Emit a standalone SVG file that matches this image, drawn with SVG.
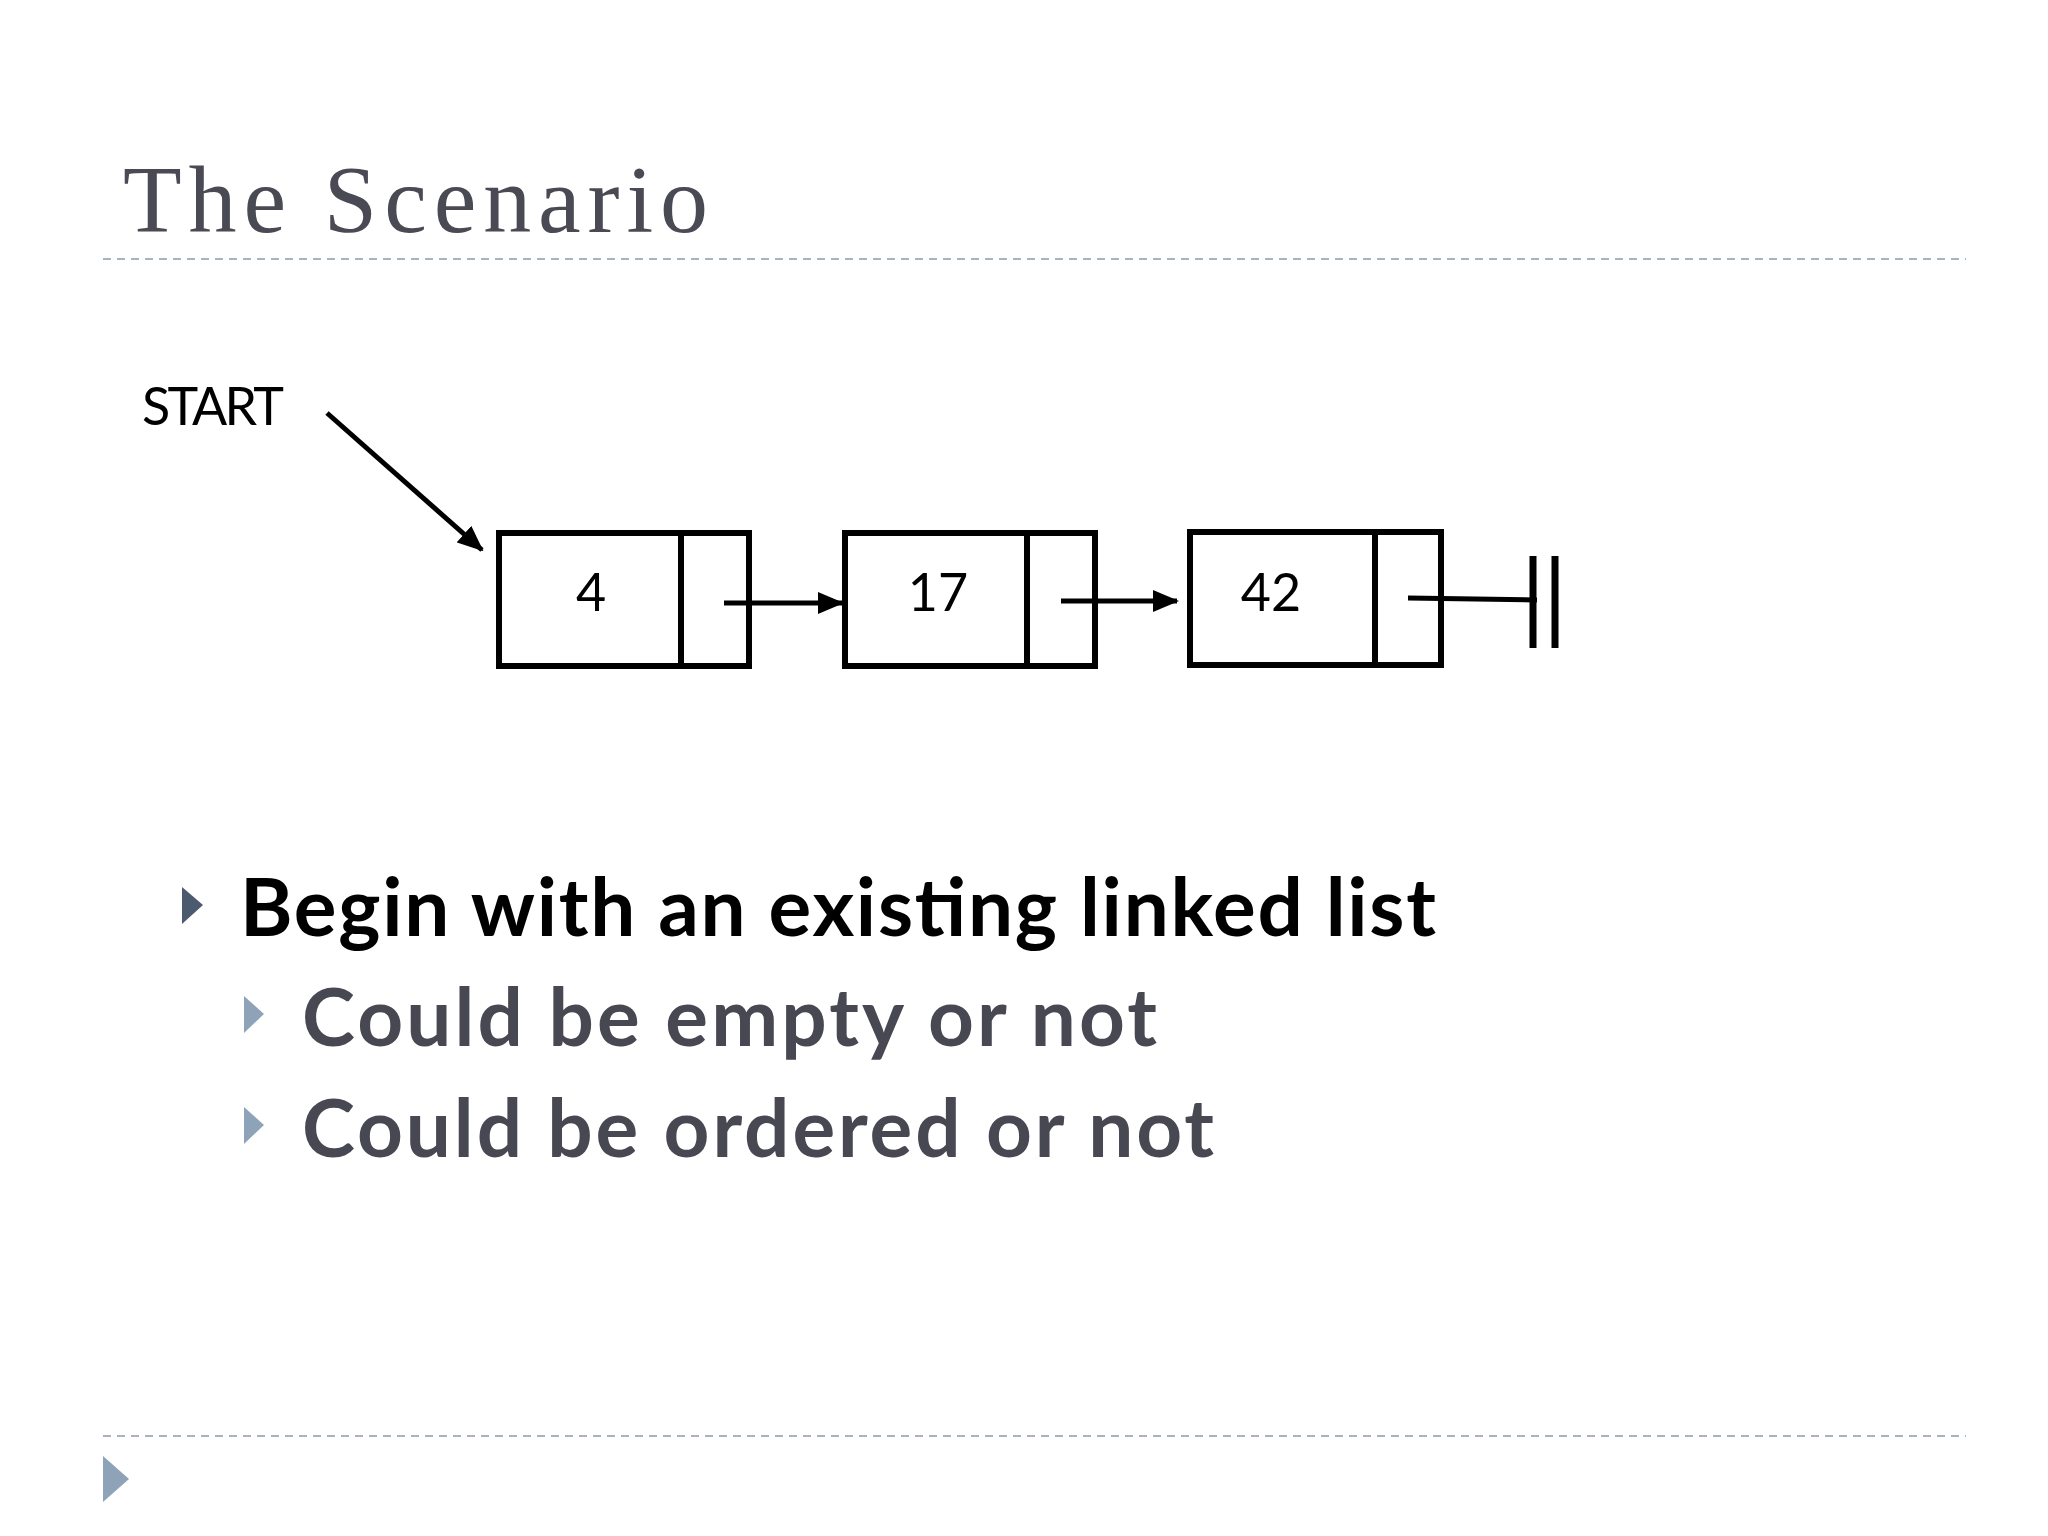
<svg xmlns="http://www.w3.org/2000/svg" width="2048" height="1536" viewBox="0 0 2048 1536">
<style>
.dash{stroke:#a9b3bd;stroke-width:2;stroke-dasharray:8 6}
.box{fill:none;stroke:#000;stroke-width:6}
.ln{stroke:#000;stroke-width:5;fill:none}
.num{font-family:"Gill Sans","Lato","Liberation Sans",sans-serif;font-size:52px;text-anchor:middle}
.b1{font-family:"Lato","Liberation Sans",sans-serif;font-weight:bold;font-size:80px}
.b2{font-family:"Lato","Liberation Sans",sans-serif;font-weight:bold;font-size:80px;fill:#484853}
.tri{fill:#8fa3b8}
</style>
<defs><marker id="ah" markerWidth="8" markerHeight="8" refX="7" refY="4" orient="auto" markerUnits="userSpaceOnUse" viewBox="0 0 8 8"><path d="M0,0 L8,4 L0,8z"/></marker>
<marker id="a" markerWidth="26" markerHeight="22" refX="24" refY="11" orient="auto" markerUnits="userSpaceOnUse"><path d="M0,0 L26,11 L0,22z" fill="#000"/></marker></defs>
<rect width="2048" height="1536" fill="#fff"/>
<text x="123" y="232" font-family="Liberation Serif,serif" font-size="96" fill="#4a4a55" textLength="585">The Scenario</text>
<line class="dash" x1="103" y1="259" x2="1966" y2="259"/>
<line class="dash" x1="103" y1="1436" x2="1966" y2="1436"/>
<text x="142" y="425" font-family="Lato,Liberation Sans,sans-serif" font-size="52" textLength="142">START</text>
<g id="n1"><rect class="box" x="499" y="533" width="250" height="133"/><line class="ln" x1="681" y1="533" x2="681" y2="666" style="stroke-width:6"/><text class="num" x="591" y="611">4</text></g>
<g id="n2"><rect class="box" x="845" y="533" width="250" height="133"/><line class="ln" x1="1027" y1="533" x2="1027" y2="666" style="stroke-width:6"/><text class="num" x="938" y="611">17</text></g>
<g id="n3"><rect class="box" x="1190" y="532" width="251" height="133"/><line class="ln" x1="1375" y1="532" x2="1375" y2="665" style="stroke-width:6"/><text class="num" x="1271" y="611">42</text></g>
<g id="connectors">
<line class="ln" x1="327" y1="413" x2="482" y2="550" marker-end="url(#a)"/>
<line class="ln" x1="724" y1="603" x2="842" y2="603" marker-end="url(#a)"/>
<line class="ln" x1="1061" y1="601" x2="1177" y2="601" marker-end="url(#a)"/>
<line class="ln" x1="1408" y1="598" x2="1537" y2="600"/>
<line class="ln" x1="1533" y1="556" x2="1533" y2="648" style="stroke-width:7"/>
<line class="ln" x1="1555" y1="556" x2="1555" y2="648" style="stroke-width:7"/>
</g>
<path class="tri" d="M182,887 L203,905 L182,924z" fill="#3d4a5e" style="fill:#4c5a70"/>
<text class="b1" x="240" y="936" textLength="1196">Begin with an existing linked list</text>
<path class="tri" d="M244,996 L264,1014 L244,1033z"/>
<text class="b2" x="302" y="1046" textLength="855">Could be empty or not</text>
<path class="tri" d="M244,1107 L264,1125 L244,1144z"/>
<text class="b2" x="302" y="1157" textLength="912">Could be ordered or not</text>
<path class="tri" d="M103,1456 L129,1479 L103,1502z"/>
</svg>
